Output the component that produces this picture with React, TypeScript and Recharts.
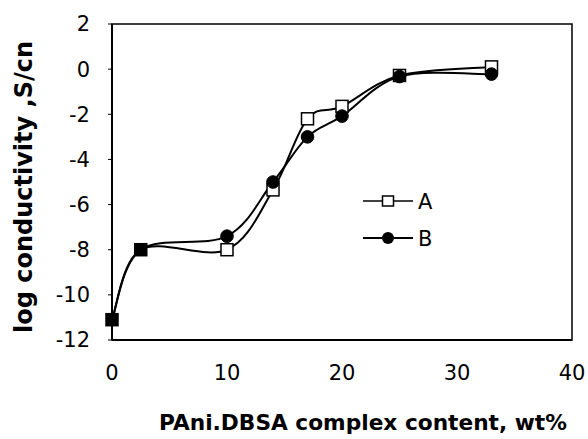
import React from 'react';
import { LineChart, Line, XAxis, YAxis, ReferenceArea } from 'recharts';

const xValues = [0, 2.5, 10, 14, 17, 20, 25, 33];
const seriesA = [-11.1, -8.0, -8.0, -5.35, -2.2, -1.65, -0.28, 0.1];
const seriesB = [-11.1, -8.0, -7.4, -5.0, -3.0, -2.08, -0.33, -0.22];
const xTicks = [0, 10, 20, 30, 40];
const yTicks = [-12, -10, -8, -6, -4, -2, 0, 2];
const seriesNames = ['A', 'B'];

const dataA = xValues.map((x, i) => ({ x, y: seriesA[i] }));
const dataB = xValues.map((x, i) => ({ x, y: seriesB[i] }));

const FONT = '"DejaVu Sans", sans-serif';

// Excel-style smoothed line (Bezier with Catmull-Rom control points)
function excelCurve(context: any) {
  let pts: [number, number][] = [];
  return {
    areaStart() {},
    areaEnd() {},
    lineStart() {
      pts = [];
    },
    lineEnd() {
      const n = pts.length;
      if (!n) return;
      context.moveTo(pts[0][0], pts[0][1]);
      for (let i = 0; i < n - 1; i++) {
        const p0 = pts[i - 1] || pts[i];
        const p1 = pts[i];
        const p2 = pts[i + 1];
        const p3 = pts[i + 2] || p2;
        context.bezierCurveTo(
          p1[0] + (p2[0] - p0[0]) / 6,
          p1[1] + (p2[1] - p0[1]) / 6,
          p2[0] - (p3[0] - p1[0]) / 6,
          p2[1] - (p3[1] - p1[1]) / 6,
          p2[0],
          p2[1]
        );
      }
    },
    point(x: number, y: number) {
      pts.push([+x, +y]);
    },
  };
}

const SquareDot = (props: any) => {
  const { cx, cy, index } = props;
  if (cx == null || cy == null) return null;
  const filled = seriesA[index] === seriesB[index];
  const s = 12;
  return (
    <rect
      key={`a-${index}`}
      x={cx - s / 2}
      y={cy - s / 2}
      width={s}
      height={s}
      fill={filled ? '#000' : '#fff'}
      stroke="#000"
      strokeWidth={1.5}
    />
  );
};

const CircleDot = (props: any) => {
  const { cx, cy, index } = props;
  if (cx == null || cy == null) return null;
  if (seriesA[index] === seriesB[index]) return null;
  return <circle key={`b-${index}`} cx={cx} cy={cy} r={6.3} fill="#000" stroke="#000" />;
};

const LegendOverlay = () => (
  <svg
    width={100}
    height={70}
    style={{ position: 'absolute', left: 363, top: 190, overflow: 'visible' }}
  >
    <line x1={0} y1={11} x2={50} y2={11} stroke="#000" strokeWidth={1.5} />
    <rect x={19.5} y={6} width={11} height={10} fill="#fff" stroke="#000" strokeWidth={1.5} />
    <text x={55} y={19} fontFamily={FONT} fontSize={21} fill="#000">
      {seriesNames[0]}
    </text>
    <line x1={0} y1={48} x2={50} y2={48} stroke="#000" strokeWidth={2} />
    <circle cx={25} cy={48} r={6} fill="#000" />
    <text x={55} y={56} fontFamily={FONT} fontSize={21} fill="#000">
      {seriesNames[1]}
    </text>
  </svg>
);

export default function App() {
  return (
    <div style={{ position: 'absolute', left: 0, top: 0, width: 588, height: 439, background: '#fff' }}>
      <LineChart
        width={588}
        height={439}
        margin={{ top: 24, right: 16, left: 42, bottom: 0 }}
      >
        <XAxis
          type="number"
          dataKey="x"
          domain={[0, 40]}
          ticks={xTicks}
          allowDuplicatedCategory={false}
          height={99}
          axisLine={{ stroke: '#000', strokeWidth: 2 }}
          tickLine={false}
          tickSize={0}
          tickMargin={25}
          tick={{ fill: '#000', fontSize: 21, fontFamily: FONT }}
          label={{
            content: () => (
              <text
                x={363}
                y={430}
                textAnchor="middle"
                fontFamily={FONT}
                fontWeight="bold"
                fontSize={21.7}
                fill="#000"
              >
                PAni.DBSA complex content, wt%
              </text>
            ),
          }}
        />
        <YAxis
          type="number"
          domain={[-12, 2]}
          ticks={yTicks}
          width={70}
          interval={0}
          axisLine={{ stroke: '#000', strokeWidth: 2 }}
          tickLine={{ stroke: '#000' }}
          tickSize={4}
          tickMargin={18}
          tick={{ fill: '#000', fontSize: 21, fontFamily: FONT }}
          label={{
            content: () => (
              <text
                x={0}
                y={0}
                transform="translate(32,187) rotate(-90)"
                textAnchor="middle"
                fontFamily={FONT}
                fontWeight="bold"
                fontSize={24}
                fill="#000"
              >
                log conductivity ,S/cn
              </text>
            ),
          }}
        />
        <ReferenceArea x1={0} x2={40} y1={-12} y2={2} fill="none" stroke="#000" strokeWidth={1.5} ifOverflow="visible" />
        <Line
          data={dataA}
          dataKey="y"
          name={seriesNames[0]}
          type={excelCurve as any}
          stroke="#000"
          strokeWidth={2}
          dot={<SquareDot />}
          activeDot={false}
          isAnimationActive={false}
        />
        <Line
          data={dataB}
          dataKey="y"
          name={seriesNames[1]}
          type={excelCurve as any}
          stroke="#000"
          strokeWidth={2}
          dot={<CircleDot />}
          activeDot={false}
          isAnimationActive={false}
        />
      </LineChart>
      <LegendOverlay />
    </div>
  );
}
